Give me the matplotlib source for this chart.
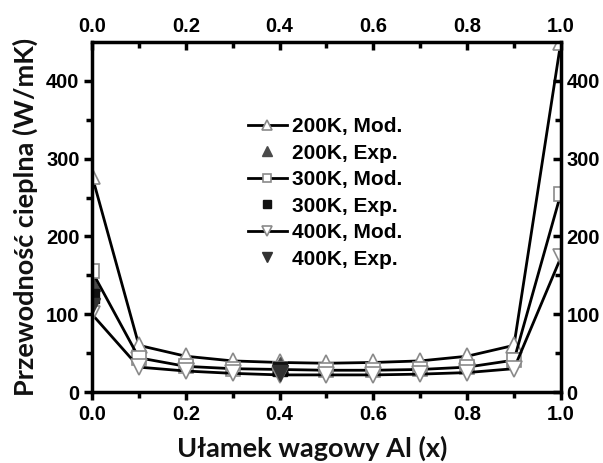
import matplotlib.pyplot as plt
import numpy as np

# Al weight fraction
x_mod = [0.0, 0.1, 0.2, 0.3, 0.4, 0.5, 0.6, 0.7, 0.8, 0.9, 1.0]

# model thermal conductivity (W/mK)
k200_mod = [278, 60, 46, 40, 38, 37, 38, 40, 46, 60, 450]
k300_mod = [155, 44, 33, 30, 29, 28, 28, 29, 32, 41, 255]
k400_mod = [100, 32, 27, 24, 22, 22, 22, 23, 25, 30, 173]

# experimental points
x_exp = [0.0, 0.4]
k200_exp = [140, 35]
k300_exp = [124, 30]
k400_exp = [110, 25]

x_ticks = [0.0, 0.2, 0.4, 0.6, 0.8, 1.0]
y_ticks = [0, 100, 200, 300, 400]
x_minor = np.arange(0.1, 1.0, 0.2)
y_minor = [50, 150, 250, 350]

tick_font = dict(family='Liberation Sans', weight='bold', size=14.5)
label_font = dict(family='Lato', weight='bold', size=19.5)
txt_color = '#111111'

fig = plt.figure(figsize=(6.03, 4.63), dpi=100)
ax = fig.add_axes([0.1526, 0.1533, 0.7775, 0.756])

mod_style = dict(color='black', lw=2, markersize=12, markerfacecolor='white',
                 markeredgecolor='#8a8a8a', markeredgewidth=1.2)
ax.plot(x_mod, k200_mod, marker='^', label='200K, Mod.', **mod_style)
ax.plot(x_exp, k200_exp, ls='none', marker='^', ms=12, color='#4a4a4a',
        label='200K, Exp.')
ax.plot(x_mod, k300_mod, marker='s', label='300K, Mod.',
        **{**mod_style, 'markersize': 9.5})
ax.plot(x_exp, k300_exp, ls='none', marker='s', ms=10.5, color='#111111',
        label='300K, Exp.')
ax.plot(x_mod, k400_mod, marker='v', label='400K, Mod.', **mod_style)
ax.plot(x_exp, k400_exp, ls='none', marker='v', ms=12, color='#333333',
        label='400K, Exp.')

ax.set_xlim(0, 1.0)
ax.set_ylim(0, 450)

for s in ax.spines.values():
    s.set_linewidth(2.5)

# bottom/left: ticks point outward
ax.set_xticks(x_ticks)
ax.set_xticks(x_minor, minor=True)
ax.set_yticks(y_ticks)
ax.set_yticks(y_minor, minor=True)
ax.tick_params(which='major', length=6, width=2.5, direction='out', pad=3)
ax.tick_params(which='minor', length=4, width=2.5, direction='out')
for lab in ax.get_xticklabels() + ax.get_yticklabels():
    lab.set(**tick_font)

# top/right: ticks point inward
sec_x = ax.secondary_xaxis('top')
sec_y = ax.secondary_yaxis('right')
sec_x.set_xticks(x_ticks)
sec_x.set_xticks(x_minor, minor=True)
sec_y.set_yticks(y_ticks)
sec_y.set_yticks(y_minor, minor=True)
for sec, labels in ((sec_x, sec_x.get_xticklabels()), (sec_y, sec_y.get_yticklabels())):
    sec.spines[:].set_linewidth(0)
    sec.tick_params(which='major', length=6, width=2.5, direction='in', pad=4)
    sec.tick_params(which='minor', length=4, width=2.5, direction='in')
    for lab in labels:
        lab.set(**tick_font)

ax.set_xlabel('Ułamek wagowy Al (x)', color=txt_color, labelpad=10, **label_font)
ax.xaxis.set_label_coords(0.47, -0.125)
ax.set_ylabel('Przewodność cieplna (W/mK)', color=txt_color, labelpad=6, **label_font)

leg = ax.legend(loc='center', bbox_to_anchor=(0.497, 0.569), frameon=False,
                prop=dict(family='Liberation Sans', weight='bold', size=15),
                markerscale=0.55, handlelength=1.9, handletextpad=0.25,
                labelspacing=0.36, borderpad=0)

fig.savefig('out.png', dpi=100)
